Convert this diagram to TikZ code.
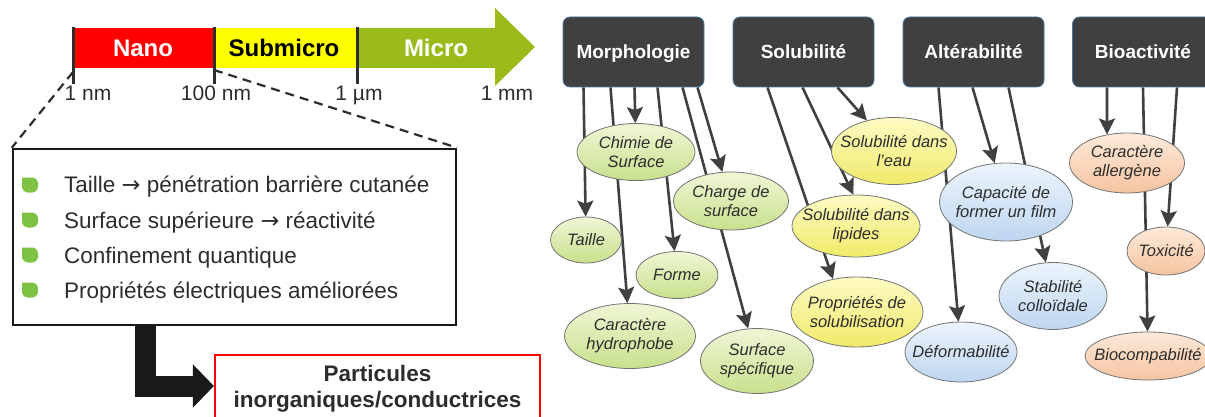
\documentclass[tikz,border=0pt]{standalone}
\usepackage{fontspec}
\setmainfont{Liberation Sans}
\newfontfamily\arrowfont{DejaVu Sans}
\usetikzlibrary{arrows.meta,positioning,calc,shapes.geometric}

\definecolor{nanored}{RGB}{255,0,0}
\definecolor{subyellow}{RGB}{255,255,0}
\definecolor{microgreen}{RGB}{155,187,26}
\definecolor{hdrgray}{RGB}{64,64,64}
\definecolor{hdrline}{RGB}{70,115,160}
\definecolor{arrgray}{RGB}{64,64,64}
\definecolor{bulgreen}{RGB}{125,194,66}
\definecolor{txtgray}{RGB}{45,45,45}
\definecolor{ellline}{RGB}{115,115,115}
\definecolor{greentop}{RGB}{240,246,214}
\definecolor{greenbot}{RGB}{200,224,140}
\definecolor{yellowtop}{RGB}{253,251,196}
\definecolor{yellowbot}{RGB}{240,234,105}
\definecolor{bluetop}{RGB}{236,244,252}
\definecolor{bluebot}{RGB}{190,214,240}
\definecolor{orangetop}{RGB}{253,234,218}
\definecolor{orangebot}{RGB}{245,196,160}

\pgfdeclarelayer{back}
\pgfsetlayers{back,main}

\newcommand{\toarrow}{{\arrowfont →}}

\tikzset{
  barlbl/.style={anchor=base, font=\bfseries\fontsize{24}{27}\selectfont},
  ticklbl/.style={anchor=base, text=txtgray, font=\fontsize{21}{24}\selectfont},
  tickline/.style={draw=txtgray, line width=3pt},
  zoomline/.style={draw=txtgray, line width=2.2pt, dash pattern=on 9pt off 6pt},
  bultext/.style={anchor=base west, inner sep=0pt, text=txtgray, font=\fontsize{22.5}{26}\selectfont},
  hdr/.style={rectangle, rounded corners=7pt, fill=hdrgray, draw=hdrline, line width=0.8pt,
    minimum width=141pt, minimum height=70pt, text height=14pt, text depth=0pt,
    text=white, font=\bfseries\fontsize{19}{22}\selectfont},
  prop/.style={ellipse, draw=ellline, line width=0.8pt, inner xsep=-30pt, inner ysep=-10pt,
    align=center, text=txtgray, font=\itshape\fontsize{16.5}{19}\selectfont},
  pgreen/.style={prop, top color=greentop, bottom color=greenbot},
  pyellow/.style={prop, top color=yellowtop, bottom color=yellowbot},
  pblue/.style={prop, top color=bluetop, bottom color=bluebot},
  porange/.style={prop, top color=orangetop, bottom color=orangebot},
  arr/.style={draw=arrgray, line width=2.6pt, -{Stealth[length=16pt,width=16pt,inset=3pt]}},
}

\begin{document}
\begin{tikzpicture}[x=1pt,y=-1pt]
\useasboundingbox (0,0) rectangle (1205,417);

% Scale bar
\fill[nanored] (73,28) rectangle (214,68);
\fill[subyellow] (214,28) rectangle (357,68);
\fill[microgreen] (357,28) -- (495,28) -- (495,8) -- (535,47) -- (495,86) -- (495,68) -- (357,68) -- cycle;
\foreach \x in {73,214,357}
  \draw[tickline] (\x,27) -- (\x,84);

\node[barlbl, text=white] (nano) at (143,57) {Nano};
\node[barlbl, text=black] (submicro) at (284,57) {Submicro};
\node[barlbl, text=white] (micro) at (436,57) {Micro};

\node[ticklbl] (l1) at (88,101) {1 nm};
\node[ticklbl] (l2) at (216,101) {100 nm};
\node[ticklbl] (l3) at (359,101) {1 µm};
\node[ticklbl] (l4) at (507,101) {1 mm};

\coordinate (t1) at (73,72);
\coordinate (t2) at (214,70);

% Properties box
\node[rectangle, draw=black!90, line width=2.5pt, minimum width=443pt, minimum height=176pt] (props) at (234.5,237) {};
\draw[zoomline] (t1) -- (props.north west);
\draw[zoomline] (t2) -- (props.north east);

\foreach \y in {185,220,255,290}
  \fill[bulgreen] (22,\y-7.5) -- (31,\y-7.5) [rounded corners=6pt] -- (38,\y-7.5) -- (38,\y+7.5) -- (22,\y+7.5) [sharp corners] -- cycle;

\node[bultext] (b1) at (64,193) {Taille \toarrow{} pénétration barrière cutanée};
\node[bultext] (b2) at (64,228) {Surface supérieure \toarrow{} réactivité};
\node[bultext] (b3) at (64,263) {Confinement quantique};
\node[bultext] (b4) at (64,298) {Propriétés électriques améliorées};

\node[rectangle, draw=nanored, line width=2.2pt, minimum width=325pt, minimum height=68pt, align=center,
  text=txtgray, font=\bfseries\fontsize{22.5}{26}\selectfont] (part) at (377.5,389) {Particules\\inorganiques/conductrices};

\draw[black!90, line width=21pt, -{Triangle[length=21pt,width=42pt]}] ([xshift=-89.5pt]props.south) |- ([yshift=3pt]part.west);

% Families
\node[hdr] (morph) at (633.5,52) {Morphologie};
\node[hdr] (solu) at (803.5,52) {Solubilité};
\node[hdr] (alter) at (973.5,52) {Altérabilité};
\node[hdr] (bioact) at (1143,52) {Bioactivité};

\node[pgreen, minimum width=118pt, minimum height=57pt] (chimie) at (636,152) {Chimie de\\Surface};
\node[pgreen, minimum width=71pt, minimum height=46pt] (taille) at (586,240) {Taille};
\node[pgreen, minimum width=82pt, minimum height=47pt] (forme) at (677,275) {Forme};
\node[pgreen, minimum width=115pt, minimum height=58pt] (charge) at (731,201) {Charge de\\surface};
\node[pgreen, minimum width=131pt, minimum height=65pt] (hydro) at (630,336) {Caractère\\hydrophobe};
\node[pgreen, minimum width=113pt, minimum height=65pt] (surfspec) at (757,361) {Surface\\spécifique};

\node[pyellow, minimum width=125pt, minimum height=67pt] (eau) at (894,151) {Solubilité dans\\l'eau};
\node[pyellow, minimum width=128pt, minimum height=62pt] (lipides) at (856,226) {Solubilité dans\\lipides};
\node[pyellow, minimum width=132pt, minimum height=70pt] (solubil) at (857,312) {Propriétés de\\solubilisation};

\node[pblue, minimum width=133pt, minimum height=78pt] (film) at (1006,202) {Capacité de\\former un film};
\node[pblue, minimum width=108pt, minimum height=67pt] (colloid) at (1053,296) {Stabilité\\colloïdale};
\node[pblue, minimum width=112pt, minimum height=60pt] (deform) at (961,352) {Déformabilité};

\node[porange, minimum width=115pt, minimum height=60pt] (allerg) at (1127,163) {Caractère\\allergène};
\node[porange, minimum width=78pt, minimum height=48pt] (toxic) at (1166,251) {Toxicité};
\node[porange, minimum width=126pt, minimum height=48pt] (biocomp) at (1148,356) {Biocompabilité};

% Arrows
\begin{pgfonlayer}{back}
\draw[arr] ([xshift=-50pt]morph.south) -- (taille);
\draw[arr] ([xshift=-23pt]morph.south) -- (hydro);
\draw[arr] ([xshift=1pt]morph.south) -- (chimie);
\draw[arr] ([xshift=24pt]morph.south) -- (forme);
\draw[arr] ([xshift=49pt]morph.south) -- (surfspec);
\draw[arr] ([xshift=64pt]morph.south) -- (charge);

\draw[arr] ([xshift=-36pt]solu.south) -- (solubil.126);
\draw[arr] ([xshift=-1pt]solu.south) -- (lipides.95);
\draw[arr] ([xshift=34pt]solu.south) -- (eau);

\draw[arr] ([xshift=-35pt]alter.south) -- (deform);
\draw[arr] ([xshift=-1pt]alter.south) -- (film);
\draw[arr] ([xshift=35pt]alter.south) -- (colloid);

\draw[arr] ([xshift=-36pt]bioact.south) -- (allerg.125);
\draw[arr] (bioact.south) -- (biocomp);
\draw[arr] ([xshift=34pt]bioact.south) -- (toxic);
\end{pgfonlayer}

\end{tikzpicture}
\end{document}
